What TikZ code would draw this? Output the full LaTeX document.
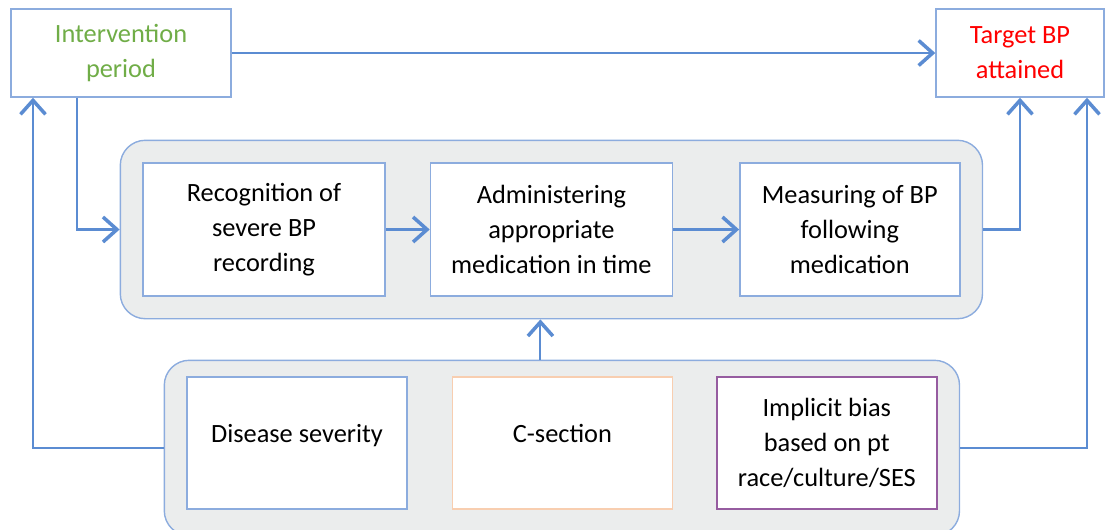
\documentclass[tikz,border=0pt]{standalone}
\usepackage{fontspec}
\setmainfont{Carlito}
\usetikzlibrary{positioning, fit, backgrounds, arrows.meta}
\definecolor{linecol}{RGB}{91, 140, 210}
\definecolor{boxcol}{RGB}{140, 172, 222}
\definecolor{panelcol}{RGB}{235, 237, 237}
\definecolor{orangecol}{RGB}{248, 206, 176}
\definecolor{purplecol}{RGB}{150, 92, 160}
\definecolor{greencol}{RGB}{112, 173, 71}
\definecolor{redcol}{RGB}{255, 0, 0}
\tikzset{
  block/.style={draw=boxcol, line width=0.8pt, fill=white, minimum width=4.4cm,
                minimum height=2.66cm, align=center, font=\fontsize{15}{20}\selectfont},
  panel/.style={draw=boxcol, line width=0.8pt, fill=panelcol, rounded corners=0.5cm},
  flow/.style={-{Straight Barb[length=2.8mm, width=5mm, line width=2pt]},
               draw=linecol, line width=1.2pt},
}

\begin{document}
\begin{tikzpicture}
  \clip (0,0) rectangle (22.1,-10.58);

  % top row
  \node[block, minimum height=1.76cm, text=greencol] (interv) at (2.42,-1.06)
       {Intervention\\period};
  \node[block, minimum width=3.36cm, minimum height=1.76cm, text=redcol] (target) at (20.4,-1.06)
       {Target BP\\attained};
  \draw[flow] (interv) -- (target);

  % care steps
  \node[block, minimum width=4.84cm] (recog) at (5.28,-4.59) {Recognition of\\severe BP\\recording};
  \node[block, minimum width=4.84cm, right=0.88cm of recog] (admin) {Administering\\appropriate\\medication in time};
  \node[block, right=1.32cm of admin] (measure) {Measuring of BP\\following\\medication};
  \draw[flow] (recog) -- (admin);
  \draw[flow] (admin) -- (measure);

  \begin{scope}[on background layer]
    \node[panel, fit=(recog)(measure), inner sep=0.44cm] (steps) {};
  \end{scope}

  % factors
  \node[block, minimum height=2.64cm, text depth=0.4cm] (disease) at (5.94,-8.86) {Disease severity};
  \node[block, minimum height=2.64cm, text depth=0.4cm, draw=orangecol, right=0.88cm of disease] (csec) {C-section};
  \node[block, minimum height=2.64cm, draw=purplecol, right=0.86cm of csec] (bias)
       {Implicit bias\\based on pt\\race/culture/SES};
  \coordinate[below=0.2cm of bias.south] (biasfoot);

  \begin{scope}[on background layer]
    \node[panel, fit=(disease)(bias)(biasfoot),
          inner xsep=0.44cm, inner ysep=0.32cm] (factors) {};
  \end{scope}

  % connectors
  \draw[flow] ([xshift=-0.88cm]interv.south) |- (steps.west);
  \draw[flow] (steps.east) -| (target.south);
  \draw[flow] (factors.west) -| ([xshift=-1.76cm]interv.south);
  \draw[flow] (factors.east) -| ([xshift=1.34cm]target.south);
  \draw[flow] ([xshift=-0.43cm]factors.north) -- ([xshift=-0.43cm]factors.north |- steps.south);
\end{tikzpicture}
\end{document}
